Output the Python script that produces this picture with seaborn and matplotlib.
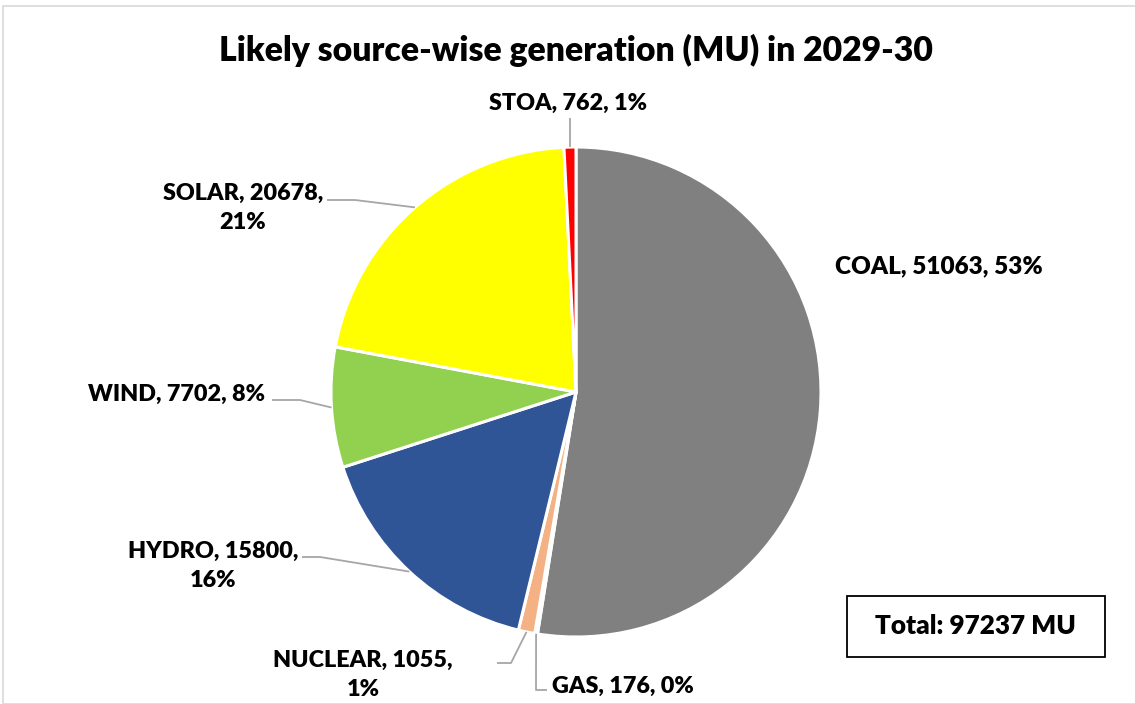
import numpy as np
import matplotlib
matplotlib.use("Agg")
import matplotlib.pyplot as plt
from matplotlib.patches import Rectangle
import seaborn as sns

# ---- data ----
sources = ["COAL", "GAS", "NUCLEAR", "HYDRO", "WIND", "SOLAR", "STOA"]
generation_mu = [51063, 176, 1055, 15800, 7702, 20678, 762]
percent_labels = ["53%", "0%", "1%", "16%", "8%", "21%", "1%"]
total_label = "Total: 97237 MU"
title = "Likely source-wise generation (MU) in 2029-30"

colors = ["#808080", "#A5A5A5", "#F4B183", "#2F5597", "#92D050", "#FFFF00", "#FF0000"]

sns.set_theme(style="white")
plt.rcParams["font.family"] = ["Lato", "DejaVu Sans"]
plt.rcParams["text.color"] = "black"

W, H = 1135, 704
fig = plt.figure(figsize=(W / 100, H / 100), dpi=100)
ax = fig.add_axes([0, 0, 1, 1])

def P(x, y):
    return (x, H - y)

cx, cy = P(576, 392)
R = 245
wedges, _ = ax.pie(generation_mu, colors=colors, startangle=90, counterclock=False,
                   center=(cx, cy), radius=R,
                   wedgeprops=dict(edgecolor="white", linewidth=2.2))
ax.set_xlim(0, W)
ax.set_ylim(0, H)
ax.set_aspect("equal")
ax.axis("off")

# outer light frame
fig.patches.append(Rectangle((3 / W, 0), 1.2, (H - 6) / H, transform=fig.transFigure,
                             fill=False, edgecolor="#D9D9D9", linewidth=1.2))

ax.text(*P(576, 50), title, ha="center", va="center", fontsize=24.3, fontweight="heavy")

# label layout (pixel positions, top-origin)
label_pos = {
    "COAL": (939, 266, None),
    "GAS": (623, 686, [(536, 690), (547, 690)]),
    "NUCLEAR": (363, 675, [(511, 663), (497, 663)]),
    "HYDRO": (213, 566, [(320, 557), (302, 557)]),
    "WIND": (177, 394, [(300, 400), (272, 400)]),
    "SOLAR": (243, 208, [(355, 200), (327, 200)]),
    "STOA": (568, 103, "vertical"),
}
two_line = {"NUCLEAR", "HYDRO", "SOLAR"}

for w, src, val, pct in zip(wedges, sources, generation_mu, percent_labels):
    if src in two_line:
        txt = f"{src}, {val},\n{pct}"
    else:
        txt = f"{src}, {val}, {pct}"
    lx, ly, leader = label_pos[src]
    ax.text(*P(lx, ly), txt, ha="center", va="center",
            fontsize=17.5 if src == "COAL" else 16.8,
            fontweight="heavy", linespacing=1.45)
    mid = np.deg2rad((w.theta1 + w.theta2) / 2)
    ex, ey = cx + R * np.cos(mid), cy + R * np.sin(mid)
    if leader is None:
        continue
    if leader == "vertical":
        xs, ys = [ex, ex], [ey, H - 118]
    else:
        pts = [P(*p) for p in leader]
        xs = [ex] + [p[0] for p in pts]
        ys = [ey] + [p[1] for p in pts]
    ax.plot(xs, ys, color="#A6A6A6", linewidth=1.3, solid_capstyle="butt")

# total box
x0, y0 = P(847, 657)
ax.add_patch(Rectangle((x0, y0), 1105 - 847, 657 - 596, fill=False,
                       edgecolor="black", linewidth=1.3))
ax.text(*P(975, 626), total_label, ha="center", va="center", fontsize=18.8,
        fontweight="heavy")

fig.savefig("out.png", dpi=100, facecolor="white")
